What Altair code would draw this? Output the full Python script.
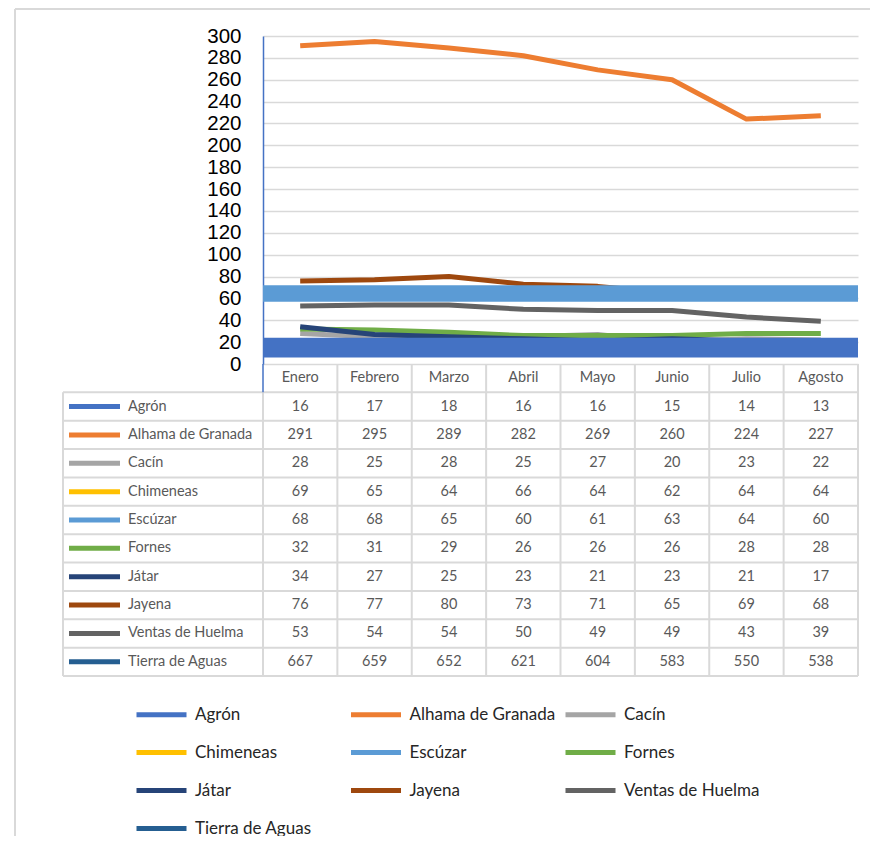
import altair as alt
import pandas as pd

months = ["Enero", "Febrero", "Marzo", "Abril", "Mayo", "Junio", "Julio", "Agosto"]
series = ["Agrón", "Alhama de Granada", "Cacín", "Chimeneas", "Escúzar", "Fornes",
          "Játar", "Jayena", "Ventas de Huelma", "Tierra de Aguas"]
agron = [16, 17, 18, 16, 16, 15, 14, 13]
alhama = [291, 295, 289, 282, 269, 260, 224, 227]
cacin = [28, 25, 28, 25, 27, 20, 23, 22]
chimeneas = [69, 65, 64, 66, 64, 62, 64, 64]
escuzar = [68, 68, 65, 60, 61, 63, 64, 60]
fornes = [32, 31, 29, 26, 26, 26, 28, 28]
jatar = [34, 27, 25, 23, 21, 23, 21, 17]
jayena = [76, 77, 80, 73, 71, 65, 69, 68]
ventas = [53, 54, 54, 50, 49, 49, 43, 39]
tierra = [667, 659, 652, 621, 604, 583, 550, 538]
colors = ["#4472C4", "#ED7D31", "#A5A5A5", "#FFC000", "#5B9BD5", "#70AD47",
          "#264478", "#9E480E", "#636363", "#255E91"]
# opaque bands covering the plot (as in the picture)
band_series = ["Escúzar", "Agrón"]
band_low = [57, 6]
band_high = [72, 24]
y_ticks = list(range(0, 301, 20))

values = [agron, alhama, cacin, chimeneas, escuzar, fornes, jatar, jayena, ventas, tierra]

rows = []
for k, (s, vals) in enumerate(zip(series, values)):
    for i, (m, v) in enumerate(zip(months, vals)):
        rows.append({"series": s, "k": k, "month": m, "mi": i + 0.5, "value": v,
                     "row": k + 1.5, "label": str(v)})
df = pd.DataFrame(rows)
df_series = pd.DataFrame({"series": series, "row": [k + 1.5 for k in range(len(series))]})
df_months = pd.DataFrame({"month": months, "mi": [i + 0.5 for i in range(len(months))], "row": 0.5})
df_band = pd.DataFrame({"series": band_series, "lo": band_low, "hi": band_high})

W = 595
PH = 328
H = 640
NROWS = 11
LEFT = -200

xscale = alt.Scale(domain=[0, len(months)], nice=False, zero=False)
yscale_top = alt.Scale(domain=[0, 300], range=[PH, 0], nice=False)
yscale_tab = alt.Scale(domain=[0, NROWS], range=[PH, H], nice=False, zero=False)
cscale = alt.Scale(domain=series, range=colors)

legend = alt.Legend(
    orient="none", legendX=-129, legendY=651, columns=3, direction="horizontal", title=None,
    symbolType="stroke", symbolSize=2500, symbolStrokeWidth=5, symbolOpacity=1,
    labelFont="Lato", labelFontSize=17, labelColor="#262626", labelOffset=6,
    labelLimit=0, rowPadding=0, columnPadding=-0.5, gridAlign="all", padding=0,
)

lines = alt.Chart(df).mark_line(strokeWidth=5, clip=True, strokeJoin="round").encode(
    x=alt.X("mi:Q", scale=xscale, axis=None),
    y=alt.Y("value:Q", scale=yscale_top, title=None,
            axis=alt.Axis(values=y_ticks, ticks=False, domainColor="#4472C4", domainWidth=1.5,
                          gridColor="#D9D9D9", gridWidth=1.5, labelFont="Liberation Sans",
                          labelFontSize=20.5, labelColor="#000000", labelPadding=22)),
    color=alt.Color("series:N", scale=cscale, sort=series, legend=legend),
    order="k:Q",
)

bands = alt.Chart(df_band).mark_rect().encode(
    x=alt.value(0), x2=alt.value(W),
    y=alt.Y("lo:Q", scale=yscale_top), y2="hi:Q",
    color=alt.Color("series:N", scale=cscale, legend=None),
)

top = alt.layer(lines, bands)

# table grid
df_h = pd.DataFrame({"y": list(range(1, NROWS + 1))})
hrules = alt.Chart(df_h).mark_rule(color="#D9D9D9", strokeWidth=2).encode(
    y=alt.Y("y:Q", scale=yscale_tab, axis=None),
    x=alt.value(LEFT), x2=alt.value(W),
)
df_v = pd.DataFrame({"x": list(range(0, len(months) + 1)),
                     "y0": [1] + [0] * len(months), "y1": [NROWS] * (len(months) + 1)})
vrules = alt.Chart(df_v).mark_rule(color="#D9D9D9", strokeWidth=2).encode(
    x=alt.X("x:Q", scale=xscale, axis=None),
    y=alt.Y("y0:Q", scale=yscale_tab, axis=None), y2="y1:Q",
)
df_b = pd.DataFrame({"x": [0], "y0": [0], "y1": [1]})
blue_rule = alt.Chart(df_b).mark_rule(color="#4472C4", strokeWidth=1.5).encode(
    x=alt.X("x:Q", scale=xscale, axis=None),
    y=alt.Y("y0:Q", scale=yscale_tab, axis=None), y2="y1:Q",
)
df_l = pd.DataFrame({"y0": [1], "y1": [NROWS]})
left_border = alt.Chart(df_l).mark_rule(color="#D9D9D9", strokeWidth=2).encode(
    x=alt.value(LEFT),
    y=alt.Y("y0:Q", scale=yscale_tab, axis=None), y2="y1:Q",
)

header = alt.Chart(df_months).mark_text(font="Lato", fontSize=14.5, color="#595959").encode(
    x=alt.X("mi:Q", scale=xscale, axis=None),
    y=alt.Y("row:Q", scale=yscale_tab, axis=None),
    text="month:N",
)
cells = alt.Chart(df).mark_text(font="Lato", fontSize=14.5, color="#595959").encode(
    x=alt.X("mi:Q", scale=xscale, axis=None),
    y=alt.Y("row:Q", scale=yscale_tab, axis=None),
    text="label:N",
)
names = alt.Chart(df_series).mark_text(font="Lato", fontSize=14.5, color="#595959", align="left").encode(
    x=alt.value(-135),
    y=alt.Y("row:Q", scale=yscale_tab, axis=None),
    text="series:N",
)
swatches = alt.Chart(df_series).mark_rule(strokeWidth=5).encode(
    x=alt.value(-194), x2=alt.value(-143),
    y=alt.Y("row:Q", scale=yscale_tab, axis=None),
    color=alt.Color("series:N", scale=cscale, legend=None),
)

# outer chart frame
frame_l = alt.Chart(df_l).mark_rule(color="#D9D9D9", strokeWidth=2).encode(
    x=alt.value(-248), y=alt.value(-27), y2=alt.value(800),
)
frame_t = alt.Chart(df_l).mark_rule(color="#D9D9D9", strokeWidth=2).encode(
    x=alt.value(-248), x2=alt.value(620), y=alt.value(-27),
)

table = alt.layer(hrules, vrules, blue_rule, left_border, header, cells, names, swatches,
                  frame_l, frame_t)

chart = alt.layer(top, table).resolve_scale(y="independent").properties(
    width=W, height=H,
    autosize=alt.AutoSizeParams(type="none"),
    padding={"left": 255, "top": 28, "right": 12, "bottom": 160},
    background="white",
).configure_view(stroke=None)

chart.save("out.html", embed_options={"renderer": "svg", "actions": False})
